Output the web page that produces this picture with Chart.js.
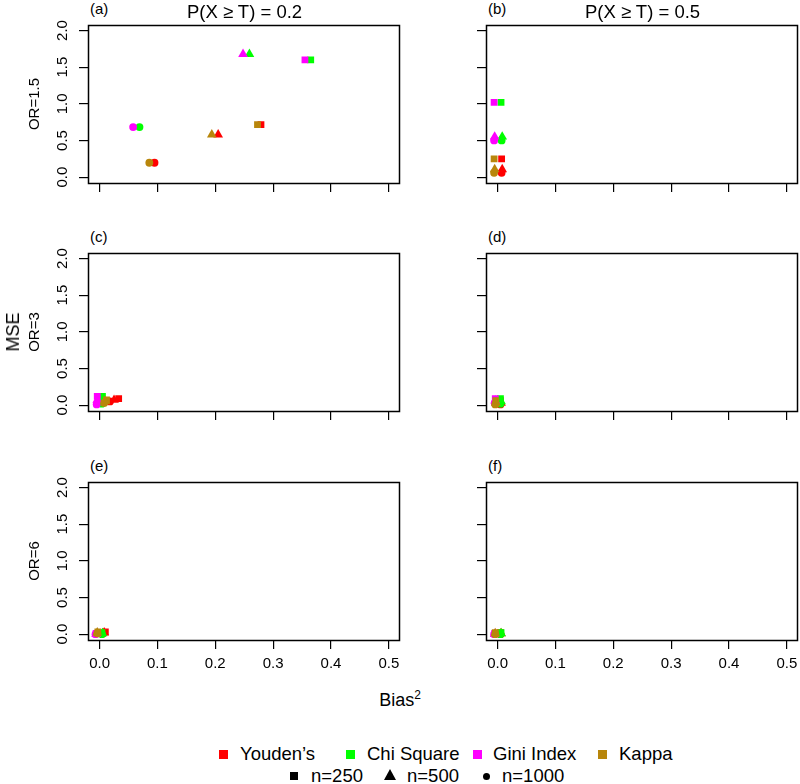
<!DOCTYPE html>
<html>
<head>
<meta charset="utf-8">
<script src="https://cdn.jsdelivr.net/npm/chart.js@4"></script>
<style>
  html, body { margin:0; padding:0; background:#fff; }
  body { width:800px; height:784px; position:relative; overflow:hidden; font-family:"Liberation Sans", Arial, sans-serif; color:#000; }
  .abs { position:absolute; white-space:nowrap; line-height:1; }
  .pw { position:absolute; }
  .ctr { transform:translate(-50%,-50%); }
  .vert { transform:translate(-50%,-50%) rotate(-90deg); }
  .sq { position:absolute; }
</style>
</head>
<body>
<script>
// ---------------- DATA ----------------
const xTickValues = [0, 0.1, 0.2, 0.3, 0.4, 0.5];
const yTickValues = [0, 0.5, 1, 1.5, 2];
const methods = ["Youden’s", "Chi Square", "Gini Index", "Kappa"];
const sampleSizes = ["n=250", "n=500", "n=1000"];
const columnTitles = ["P(X ≥ T) = 0.2", "P(X ≥ T) = 0.5"];
const rowTitles = ["OR=1.5", "OR=3", "OR=6"];
const panelLetters = ["(a)", "(b)", "(c)", "(d)", "(e)", "(f)"];

// rows = method (Youden, Chi, Gini, Kappa); columns = n=250, n=500, n=1000
const biasA = [[0.279, 0.205, 0.095], [0.365, 0.259, 0.069], [0.355, 0.248, 0.058], [0.273, 0.194, 0.086]];
const mseA  = [[0.715, 0.58, 0.196], [1.60, 1.677, 0.682], [1.60, 1.677, 0.682], [0.715, 0.58, 0.196]];

const biasB = [[0.007, 0.008, 0.007], [0.006, 0.008, 0.007], [-0.006, -0.005, -0.006], [-0.006, -0.005, -0.006]];
const mseB  = [[0.25, 0.105, 0.06], [1.02, 0.55, 0.50], [1.02, 0.55, 0.50], [0.25, 0.105, 0.06]];

const biasC = [[0.033, 0.025, 0.018], [0.005, 0.006, 0.004], [-0.004, -0.004, -0.005], [0.012, 0.010, 0.008]];
const mseC  = [[0.09, 0.07, 0.05], [0.12, 0.07, 0.02], [0.12, 0.07, 0.01], [0.07, 0.05, 0.03]];

const biasD = [[0.005, 0.006, 0.005], [0.005, 0.006, 0.005], [-0.004, -0.004, -0.005], [-0.003, -0.003, -0.004]];
const mseD  = [[0.06, 0.03, 0.01], [0.09, 0.05, 0.02], [0.09, 0.06, 0.03], [0.06, 0.03, 0.01]];

const biasE = [[0.010, 0.008, 0.006], [0.004, 0.005, 0.004], [-0.006, -0.006, -0.007], [-0.003, -0.004, -0.004]];
const mseE  = [[0.03, 0.02, 0.01], [0.02, 0.01, 0.00], [0.01, 0.00, 0.00], [0.03, 0.02, 0.01]];

const biasF = [[0.005, 0.006, 0.005], [0.006, 0.006, 0.005], [-0.005, -0.005, -0.006], [-0.004, -0.004, -0.004]];
const mseF  = [[0.02, 0.01, 0.00], [0.02, 0.01, 0.00], [0.01, 0.00, 0.00], [0.02, 0.01, 0.00]];

// ---------------- STYLE / LAYOUT ----------------
const FONT = '"Liberation Sans", Arial, sans-serif';
const methodColors = ["#FF0000", "#00FF00", "#FF00FF", "#B8860B"];
const pointShapes = ["rect", "triangle", "circle"];
const pointRadii = [4.8, 5.6, 3.9];

const colLeft = [88, 486];
const rowTop = [24, 252, 481];
const boxW = 313, boxH = 159;
const padL = 70, padT = 5, padR = 5, padB = 45;

const panels = [
  { bias: biasA, mse: mseA, row: 0, col: 0 },
  { bias: biasB, mse: mseB, row: 0, col: 1 },
  { bias: biasC, mse: mseC, row: 1, col: 0 },
  { bias: biasD, mse: mseD, row: 1, col: 1 },
  { bias: biasE, mse: mseE, row: 2, col: 0 },
  { bias: biasF, mse: mseF, row: 2, col: 1 },
];

const boxPlugin = {
  id: 'boxPlot',
  afterDraw(chart) {
    const a = chart.chartArea, ctx = chart.ctx;
    ctx.save();
    ctx.strokeStyle = '#000';
    ctx.lineWidth = 1.5;
    ctx.strokeRect(Math.round(a.left) + 0.5, Math.round(a.top) + 0.5, Math.round(a.right - a.left) - 1, Math.round(a.bottom - a.top));
    ctx.restore();
  }
};

const yLabelPlugin = {
  id: 'yLabels',
  afterDraw(chart, args, opts) {
    if (!opts.show) return;
    const ctx = chart.ctx, ys = chart.scales.y;
    ctx.save();
    ctx.font = '15px ' + FONT;
    ctx.fillStyle = '#000';
    ctx.textAlign = 'center';
    ctx.textBaseline = 'alphabetic';
    yTickValues.forEach(v => {
      const py = ys.getPixelForValue(v);
      ctx.save();
      ctx.translate(chart.chartArea.left - 21, py);
      ctx.rotate(-Math.PI / 2);
      ctx.fillText(v.toFixed(1), 0, 0);
      ctx.restore();
    });
    ctx.restore();
  }
};

function addText(txt, x, y, size, cls, extra) {
  const d = document.createElement('div');
  d.className = 'abs ' + cls;
  d.style.left = x + 'px';
  d.style.top = y + 'px';
  d.style.fontSize = size + 'px';
  if (extra) Object.assign(d.style, extra);
  d.innerHTML = txt;
  document.body.appendChild(d);
  return d;
}

panels.forEach((p, idx) => {
  const wrap = document.createElement('div');
  wrap.className = 'pw';
  const W = padL + boxW + padR, H = padT + boxH + padB;
  wrap.style.left = (colLeft[p.col] - padL) + 'px';
  wrap.style.top = (rowTop[p.row] - padT) + 'px';
  wrap.style.width = W + 'px';
  wrap.style.height = H + 'px';
  const cv = document.createElement('canvas');
  cv.width = W; cv.height = H;
  cv.style.width = W + 'px'; cv.style.height = H + 'px';
  wrap.appendChild(cv);
  document.body.appendChild(wrap);

  const datasets = methods.map((m, i) => ({
    label: m,
    data: sampleSizes.map((n, j) => ({ x: p.bias[i][j], y: p.mse[i][j] })),
    backgroundColor: methodColors[i],
    borderColor: methodColors[i],
    pointStyle: pointShapes,
    pointRadius: pointRadii,
    pointBorderWidth: 0,
    pointHoverRadius: pointRadii,
    showLine: false,
    order: methods.length - 1 - i
  }));

  const bottomRow = p.row === 2;
  const leftCol = p.col === 0;

  new Chart(cv, {
    type: 'scatter',
    data: { datasets },
    plugins: [boxPlugin, yLabelPlugin],
    options: {
      responsive: false,
      animation: false,
      events: [],
      layout: { padding: { top: padT, right: padR, left: 0, bottom: 0 } },
      plugins: {
        legend: { display: false },
        tooltip: { enabled: false },
        yLabels: { show: leftCol }
      },
      scales: {
        x: {
          type: 'linear',
          min: -0.02, max: 0.52,
          afterBuildTicks: ax => { ax.ticks = xTickValues.map(v => ({ value: v })); },
          afterFit: s => { s.height = padB; },
          border: { display: false },
          grid: { drawOnChartArea: false, drawTicks: true, tickLength: 9, color: '#000', lineWidth: 1.2 },
          ticks: {
            display: bottomRow,
            autoSkip: false, maxRotation: 0, minRotation: 0,
            padding: 6,
            color: '#000',
            font: { size: 15, family: FONT },
            callback: v => Number(v).toFixed(1)
          }
        },
        y: {
          type: 'linear',
          min: -0.08, max: 2.08,
          afterBuildTicks: ax => { ax.ticks = yTickValues.map(v => ({ value: v })); },
          afterFit: s => { s.width = padL; },
          border: { display: false },
          grid: { drawOnChartArea: false, drawTicks: true, tickLength: 9, color: '#000', lineWidth: 1.2 },
          ticks: { display: false }
        }
      }
    }
  });

  // panel letter
  addText(panelLetters[idx], colLeft[p.col] + 2, rowTop[p.row] - 23, 15, '', {});
});

// column titles
columnTitles.forEach((t, c) => {
  addText(t, colLeft[c] + boxW / 2, 12, 18.5, 'ctr', {});
});
// row titles
rowTitles.forEach((t, r) => {
  addText(t, 33, rowTop[r] + boxH / 2, 15, 'vert', {});
});
// axis titles
addText('MSE', 13, rowTop[1] + boxH / 2, 18, 'vert', {});
addText('Bias<sup style="font-size:12px;vertical-align:7px;line-height:0">2</sup>', 400, 700, 18, 'ctr', {});

// legend
function legendSquare(x, cy, size, color) {
  const d = document.createElement('div');
  d.className = 'sq';
  d.style.left = x + 'px'; d.style.top = (cy - size / 2) + 'px';
  d.style.width = size + 'px'; d.style.height = size + 'px';
  d.style.background = color;
  document.body.appendChild(d);
}
const row1Y = 754, row2Y = 776;
const row1Marks = [219, 346, 473, 598];
const row1Texts = [240, 367, 493, 619];
methods.forEach((m, i) => {
  legendSquare(row1Marks[i], row1Y, 9, methodColors[i]);
  addText(m, row1Texts[i], row1Y - 9.5, 18.5, '', {});
});
// row 2
legendSquare(290, row2Y, 8, '#000');
addText(sampleSizes[0], 311, row2Y - 9.5, 18.5, '', {});
const tri = document.createElement('div');
tri.className = 'sq';
tri.style.left = '384px'; tri.style.top = (row2Y - 7) + 'px';
tri.style.width = '0'; tri.style.height = '0';
tri.style.borderLeft = '6.5px solid transparent';
tri.style.borderRight = '6.5px solid transparent';
tri.style.borderBottom = '11px solid #000';
document.body.appendChild(tri);
addText(sampleSizes[1], 407, row2Y - 9.5, 18.5, '', {});
const circ = document.createElement('div');
circ.className = 'sq';
circ.style.left = '483px'; circ.style.top = (row2Y - 3.5) + 'px';
circ.style.width = '7px'; circ.style.height = '7px';
circ.style.borderRadius = '50%';
circ.style.background = '#000';
document.body.appendChild(circ);
addText(sampleSizes[2], 502, row2Y - 9.5, 18.5, '', {});
</script>
</body>
</html>
